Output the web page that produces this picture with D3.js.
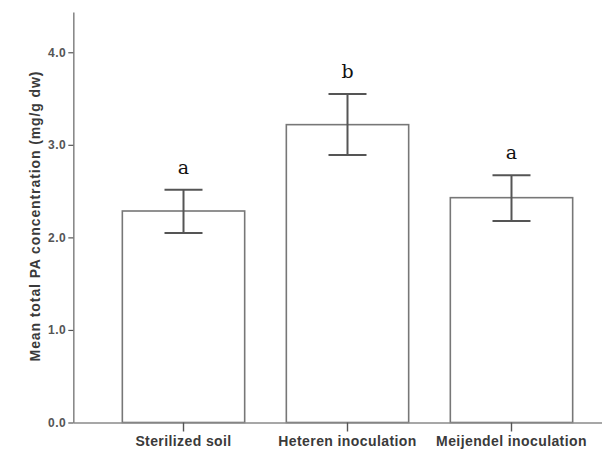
<!DOCTYPE html>
<html>
<head>
<meta charset="utf-8">
<script src="https://cdn.jsdelivr.net/npm/d3@7"></script>
<style>
  html, body { margin: 0; padding: 0; background: #fff; }
  svg { display: block; }
</style>
</head>
<body>
<svg id="chart" width="602" height="452"></svg>
<script>
// Mean total PA concentration per soil treatment, with error bar bounds
const categories = ["Sterilized soil", "Heteren inoculation", "Meijendel inoculation"];
const means = [2.285, 3.218, 2.429];
const errLow = [2.048, 2.890, 2.177];
const errHigh = [2.515, 3.549, 2.671];
const letters = ["a", "b", "a"];
const yTicks = [0, 1, 2, 3, 4];

const svg = d3.select("#chart");

const x = d3.scaleBand()
  .domain(categories)
  .range([73.3, 621.7])
  .paddingInner(0.254)
  .paddingOuter(0.299);

const y = d3.scaleLinear()
  .domain([0, 4.435])
  .range([422.5, 12]);

const axisColor = "#8a8a8a";
const textColor = "#3a3a3a";
const sans = "Arial, 'Liberation Sans', sans-serif";

// Bars
svg.append("g").selectAll("rect")
  .data(categories)
  .join("rect")
  .attr("x", d => x(d))
  .attr("y", (d, i) => y(means[i]))
  .attr("width", x.bandwidth())
  .attr("height", (d, i) => y(0) - y(means[i]))
  .attr("fill", "#fff")
  .attr("stroke", "#777")
  .attr("stroke-width", 1.6);

// Error bars
const capW = 38;
const eg = svg.append("g").attr("stroke", "#555").attr("stroke-width", 2).attr("fill", "none");
categories.forEach((c, i) => {
  const cx = x(c) + x.bandwidth() / 2;
  eg.append("line").attr("x1", cx).attr("x2", cx).attr("y1", y(errLow[i])).attr("y2", y(errHigh[i]));
  eg.append("line").attr("x1", cx - capW / 2).attr("x2", cx + capW / 2).attr("y1", y(errHigh[i])).attr("y2", y(errHigh[i]));
  eg.append("line").attr("x1", cx - capW / 2).attr("x2", cx + capW / 2).attr("y1", y(errLow[i])).attr("y2", y(errLow[i]));
});

// Significance letters
svg.append("g").selectAll("text")
  .data(letters)
  .join("text")
  .attr("x", (d, i) => x(categories[i]) + x.bandwidth() / 2)
  .attr("y", (d, i) => y(errHigh[i]) - 16)
  .attr("text-anchor", "middle")
  .attr("font-family", "'DejaVu Serif', 'Liberation Serif', serif")
  .attr("font-size", 19)
  .attr("fill", "#111")
  .text(d => d);

// Y axis
const yAxis = svg.append("g")
  .attr("transform", `translate(${73.3},0)`)
  .call(d3.axisLeft(y).tickValues(yTicks).tickFormat(d3.format(".1f")).tickSize(5).tickPadding(2).tickSizeOuter(0));
yAxis.select(".domain").attr("stroke", axisColor).attr("stroke-width", 1.6);
yAxis.selectAll(".tick line").attr("stroke", "#555").attr("stroke-width", 1.2);
yAxis.selectAll(".tick text")
  .attr("font-family", sans)
  .attr("font-size", 12)
  .attr("font-weight", "bold")
  .attr("letter-spacing", 0.5)
  .attr("fill", "#555");

// X axis
const xAxis = svg.append("g")
  .attr("transform", `translate(0,${y(0)})`)
  .call(d3.axisBottom(x).tickSize(9).tickPadding(5).tickSizeOuter(0));
xAxis.select(".domain").attr("stroke", axisColor).attr("stroke-width", 1.6)
  .attr("d", `M73.3,0.5H602`);
xAxis.selectAll(".tick line").attr("stroke", "#555").attr("stroke-width", 1.4);
xAxis.selectAll(".tick text")
  .attr("font-family", sans)
  .attr("font-size", 14)
  .attr("font-weight", "bold")
  .attr("letter-spacing", 0.4)
  .attr("fill", textColor);

// Y axis title
svg.append("text")
  .attr("transform", `translate(40,216) rotate(-90)`)
  .attr("text-anchor", "middle")
  .attr("font-family", sans)
  .attr("font-size", 14)
  .attr("font-weight", "bold")
  .attr("letter-spacing", 0.9)
  .attr("fill", textColor)
  .text("Mean total PA concentration (mg/g dw)");
</script>
</body>
</html>
